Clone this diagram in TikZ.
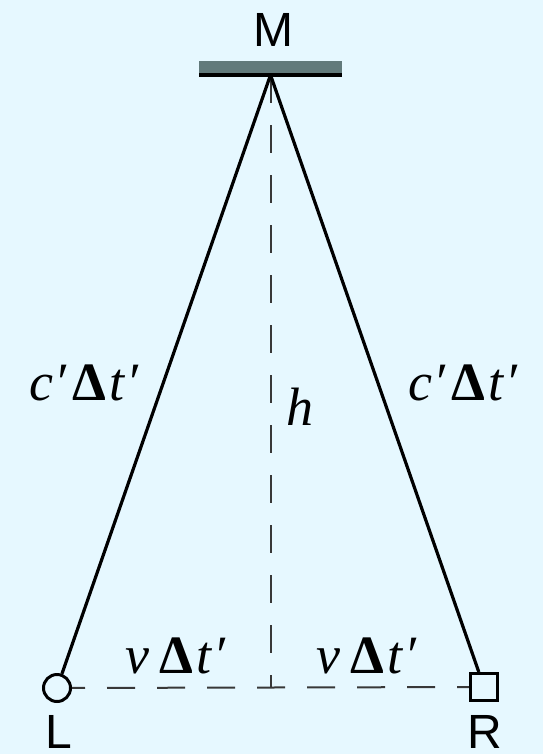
\documentclass[tikz,border=0pt]{standalone}
\usepackage{fontspec}
\setmainfont{Liberation Serif}
\newfontfamily\sansf{Liberation Sans}
\definecolor{bgc}{HTML}{E6F8FF}
\definecolor{mirrorc}{HTML}{627A7B}
\definecolor{dashc}{HTML}{383838}
\pgfdeclarelayer{backfill}
\pgfdeclarelayer{lines}
\pgfsetlayers{backfill,lines,main}
\newcommand{\ctlbl}{\textit{c}\kern1bp{\textit{′}}\kern6bp\textbf{Δ}\kern3bp\textit{t}\kern1bp\textit{′}}
\newcommand{\vtlbl}{\textit{v}\kern10bp\textbf{Δ}\kern3bp\textit{t}\kern1bp\textit{′}}
\tikzset{
  sanslbl/.style={font=\sansf\fontsize{48bp}{52bp}\selectfont, inner sep=0pt, anchor=base},
  mathtxt/.style={font=\fontsize{54bp}{58bp}\selectfont, inner sep=0pt, anchor=base},
  solidln/.style={line width=3.2bp, black},
  dashln/.style={line width=2bp, dashc, dash pattern=on 28bp off 22bp},
  obscircle/.style={circle, draw=black, line width=3bp, fill=bgc, minimum size=27bp, inner sep=0pt},
  obssquare/.style={rectangle, draw=black, line width=3bp, fill=bgc, minimum size=27bp, inner sep=0pt},
}
\begin{document}
\begin{tikzpicture}[x=1bp, y=-1bp]
  \begin{pgfonlayer}{backfill}
    \fill[bgc] (0,0) rectangle (543,754);
  \end{pgfonlayer}
  \useasboundingbox (0,0) rectangle (543,754);
  % mirror
  \fill[mirrorc] (199,61) rectangle (342,74);
  \draw[line width=4bp] (199,74.5) -- (342,74.5);
  \coordinate (apex) at (270.5,75);
  \coordinate (foot) at (270.5,688);
  % observers
  \node[obscircle] (L) at (57,688) {};
  \node[obssquare] (R) at (484,687) {};
  \begin{pgfonlayer}{lines}
    \draw[dashln] (apex) -- (foot);
    \draw[dashln] (L.center) -- (R.center);
  \end{pgfonlayer}
  \draw[solidln] (apex) -- (L);
  \draw[solidln] (apex) -- (R);
  % labels
  \node[sanslbl] (Mlbl) at (273,47) {M};
  \node[sanslbl] (Llbl) at (59,748) {L};
  \node[sanslbl] (Rlbl) at (485,748) {R};
  \node[mathtxt] (cl) at (84,400) {\ctlbl};
  \node[mathtxt] (cr) at (463,400) {\ctlbl};
  \node[mathtxt] (hl) at (300,425) {\textit{h}};
  \node[mathtxt] (vl) at (176,673) {\vtlbl};
  \node[mathtxt] (vr) at (367,673) {\vtlbl};
\end{tikzpicture}
\end{document}
